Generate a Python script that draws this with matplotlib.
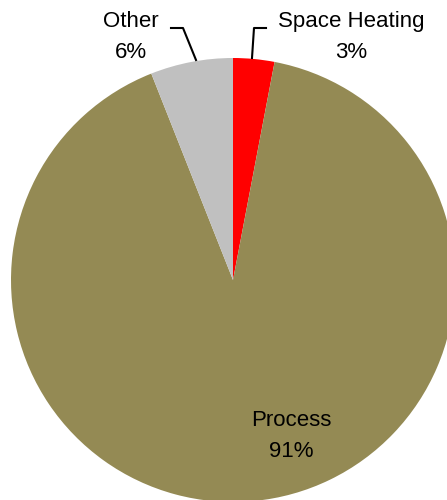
import matplotlib
matplotlib.use('Agg')
import matplotlib.pyplot as plt

labels = ['Space Heating', 'Process', 'Other']
shares = [3, 91, 6]
colors = ['#FF0000', '#948A54', '#C0C0C0']

fig = plt.figure(figsize=(4.47, 5.0), dpi=100)
ax = fig.add_axes([0, 0, 1, 1])

# pie laid out in pixel units, top slice starts at 12 o'clock
wedges, _ = ax.pie(shares, colors=colors, startangle=90, counterclock=False,
                   center=(233, 220), radius=222, frame=True)
ax.set_xlim(0, 447)
ax.set_ylim(0, 500)
ax.set_aspect('equal')
ax.axis('off')

font = dict(family='Liberation Sans', size=16, color='black', ha='center',
            va='center', linespacing=1.6)

ax.text(131, 463, f'{labels[2]}\n{shares[2]}%', **font)
ax.plot([171, 183, 196], [472, 472, 440], color='black', lw=1.5)

ax.text(351, 463, f'{labels[0]}\n{shares[0]}%', **font)
ax.plot([266, 254, 252], [472, 472, 442], color='black', lw=1.5)

ax.text(291, 64, f'{labels[1]}\n{shares[1]}%', **font)

fig.savefig('out.png', dpi=100)
